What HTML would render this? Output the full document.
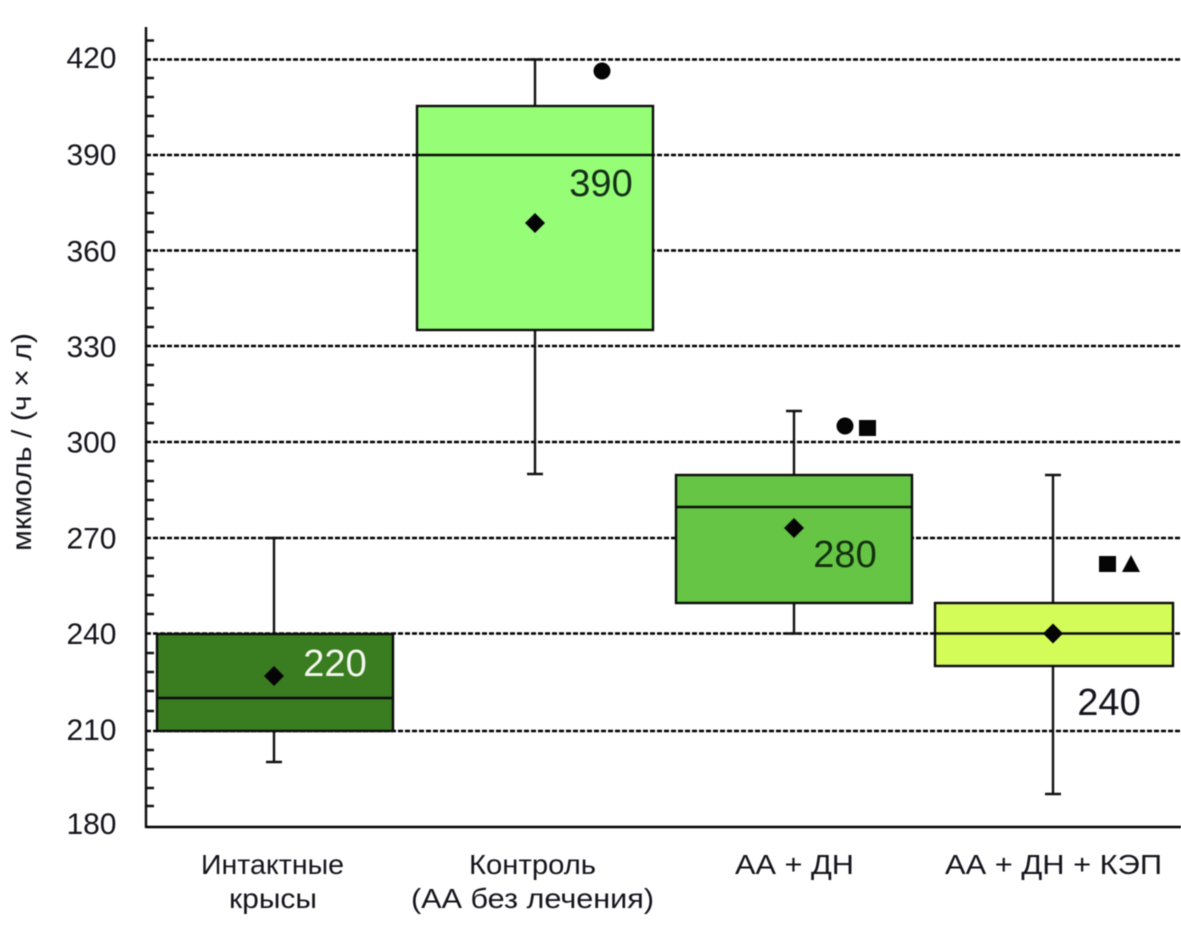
<!DOCTYPE html>
<html>
<head>
<meta charset="utf-8">
<style>
html,body{margin:0;padding:0;background:#fff;}
svg{display:block;filter:blur(0.45px);}
text{font-family:"Liberation Sans",sans-serif;fill:#14141c;}
.y{font-size:30px;text-anchor:end;}
.x{font-size:28px;text-anchor:middle;}
.v{font-size:38px;text-anchor:middle;}
</style>
</head>
<body>
<svg width="1181" height="933" viewBox="0 0 1181 933" xmlns="http://www.w3.org/2000/svg">
<rect width="1181" height="933" fill="#fff"/>
<!-- grid -->
<g stroke="#000" stroke-width="2.400" stroke-dasharray="5 2" fill="none">
<path d="M146 59.500H1181M146 155H1181M146 250.500H1181M146 346H1181M146 442H1181M146 538H1181M146 633.500H1181M146 731H1181"/>
</g>
<!-- axis -->
<path d="M146 27V828" stroke="#111" stroke-width="2.500" fill="none"/>
<g stroke="#111" stroke-width="2.500" fill="none">
<path d="M146 40.500h8M146 78h8M146 97h8M146 116h8M146 136h8M146 174h8M146 192.500h8M146 213h8M146 232h8M146 269.500h8M146 288.500h8M146 308h8M146 327h8M146 365h8M146 385h8M146 404h8M146 423h8M146 461h8M146 481h8M146 500h8M146 519h8M146 558h8M146 576h8M146 595h8M146 614h8M146 653h8M146 672h8M146 691h8M146 711h8M146 750h8M146 769h8M146 788h8M146 806h8"/>
</g>
<path d="M146 827H1181" stroke="#000" stroke-width="2.400" fill="none"/>
<!-- y labels -->
<text class="y" x="116.500" y="68">420</text>
<text class="y" x="116.500" y="165">390</text>
<text class="y" x="116.500" y="261.500">360</text>
<text class="y" x="116.500" y="357">330</text>
<text class="y" x="116.500" y="452.500">300</text>
<text class="y" x="116.500" y="548.500">270</text>
<text class="y" x="116.500" y="644">240</text>
<text class="y" x="116.500" y="740">210</text>
<text class="y" x="116.500" y="834">180</text>
<text transform="translate(31,442) rotate(-90)" font-size="28" text-anchor="middle" textLength="218" lengthAdjust="spacingAndGlyphs">мкмоль / (ч × л)</text>
<!-- whiskers -->
<g stroke="#111" stroke-width="2.400" fill="none">
<path d="M274 538V762M266 762h16M266 538h16"/>
<path d="M535 59.500V474M527 59.500h16M527 474h16"/>
<path d="M794 411V633.500M786 411h16M786 633.500h16"/>
<path d="M1053 475V794M1045 475h16M1045 794h16"/>
</g>
<!-- boxes -->
<g stroke="#0c0c0c" stroke-width="2.400">
<rect x="157" y="634" width="236" height="97" fill="#3a7d20"/>
<path d="M157 698H393"/>
<rect x="417" y="106" width="236" height="224" fill="#96fd77"/>
<path d="M417 155H653"/>
<rect x="676" y="475" width="236" height="128" fill="#66c545"/>
<path d="M676 507H912"/>
<rect x="935" y="603" width="238" height="63" fill="#d4fc59"/>
<path d="M935 633.500H1173"/>
</g>
<!-- markers -->
<g fill="#050505">
<path d="M274 666l10 10-10 10-10-10z"/>
<path d="M535 213l10 10-10 10-10-10z"/>
<path d="M794 518l10 10-10 10-10-10z"/>
<path d="M1053 623.500l10 10-10 10-10-10z"/>
<circle cx="602" cy="71" r="8.500"/>
<circle cx="845" cy="426" r="8.500"/>
<rect x="859" y="420" width="17" height="16"/>
<rect x="1099" y="556" width="17" height="16"/>
<path d="M1131 555l9 17h-18z"/>
</g>
<!-- value labels -->
<text class="v" x="335" y="676" style="fill:#f4f8ef">220</text>
<text class="v" x="601" y="196" style="fill:#16301a">390</text>
<text class="v" x="845" y="567" style="fill:#12300f">280</text>
<text class="v" x="1109" y="715">240</text>
<!-- x labels -->
<text class="x" x="272.500" y="874" textLength="143" lengthAdjust="spacingAndGlyphs">Интактные</text>
<text class="x" x="273" y="908" textLength="88" lengthAdjust="spacingAndGlyphs">крысы</text>
<text class="x" x="532.500" y="874" textLength="127" lengthAdjust="spacingAndGlyphs">Контроль</text>
<text class="x" x="532.500" y="908" textLength="243" lengthAdjust="spacingAndGlyphs">(АА без лечения)</text>
<text class="x" x="794.500" y="874" textLength="119" lengthAdjust="spacingAndGlyphs">АА + ДН</text>
<text class="x" x="1053.500" y="874" textLength="217" lengthAdjust="spacingAndGlyphs">АА + ДН + КЭП</text>
</svg>
</body>
</html>
